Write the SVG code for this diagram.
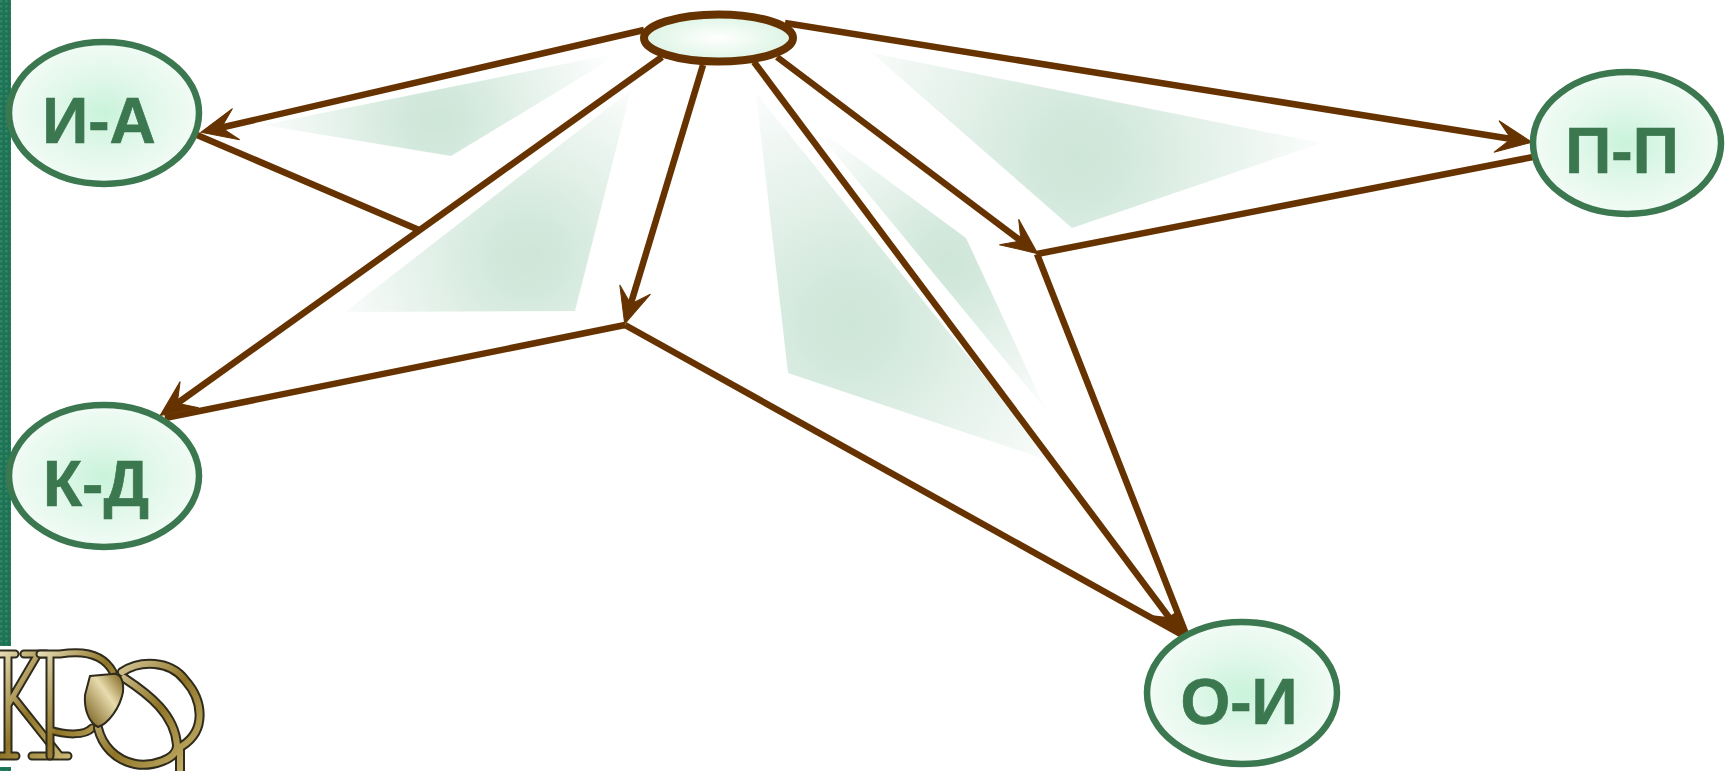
<svg xmlns="http://www.w3.org/2000/svg" width="1730" height="771" viewBox="0 0 1730 771">
<style>
.n{stroke:#3b774f;stroke-width:6.5;fill:url(#nf)}
.t{font-family:"Liberation Sans",Arial,sans-serif;font-weight:700;font-size:64px;fill:#3b774f;stroke:#3b774f;stroke-width:.7;text-anchor:middle}
.c{stroke:#663300;stroke-width:6.5;fill:none}
.a{marker-end:url(#ah)}
.ld{fill:none;stroke:#2e2a1c;stroke-linecap:round}
.lg{fill:none;stroke:url(#gold);stroke-linecap:round}
</style>
<defs>
<radialGradient id="nf"><stop offset="0" stop-color="#c9f3da"/><stop offset=".6" stop-color="#e4f8ec"/><stop offset="1" stop-color="#f1fbf5"/></radialGradient>
<radialGradient id="tf" cx=".5" cy=".5" r=".5"><stop offset="0" stop-color="#ffffff"/><stop offset="1" stop-color="#dcf4e4"/></radialGradient>
<radialGradient id="s1" gradientUnits="userSpaceOnUse" cx="436" cy="120" r="190"><stop offset="0" stop-color="#cde6d8"/><stop offset=".15" stop-color="#d2e8dc"/><stop offset="1" stop-color="#fff"/></radialGradient>
<radialGradient id="s2" gradientUnits="userSpaceOnUse" cx="528" cy="257" r="215"><stop offset="0" stop-color="#cde6d8"/><stop offset=".15" stop-color="#d2e8dc"/><stop offset="1" stop-color="#fff"/></radialGradient>
<radialGradient id="s3" gradientUnits="userSpaceOnUse" cx="849" cy="323" r="270"><stop offset="0" stop-color="#cde6d8"/><stop offset=".15" stop-color="#d2e8dc"/><stop offset="1" stop-color="#fff"/></radialGradient>
<radialGradient id="s4" gradientUnits="userSpaceOnUse" cx="950" cy="262" r="185"><stop offset="0" stop-color="#cde6d8"/><stop offset=".15" stop-color="#d2e8dc"/><stop offset="1" stop-color="#fff"/></radialGradient>
<radialGradient id="s5" gradientUnits="userSpaceOnUse" cx="1078" cy="157" r="265"><stop offset="0" stop-color="#cde6d8"/><stop offset=".15" stop-color="#d2e8dc"/><stop offset="1" stop-color="#fff"/></radialGradient>
<linearGradient id="gold" x1="0" y1="0" x2="1" y2="1"><stop offset="0" stop-color="#e6dcb4"/><stop offset=".5" stop-color="#8f7426"/><stop offset="1" stop-color="#cbb874"/></linearGradient>
<linearGradient id="blob" x1="0" y1="1" x2="1" y2="0"><stop offset="0" stop-color="#6e5410"/><stop offset=".6" stop-color="#e8dcae"/><stop offset="1" stop-color="#7a5e14"/></linearGradient>
<pattern id="bar" width="5" height="5" patternUnits="userSpaceOnUse"><rect width="5" height="5" fill="#1f7355"/><rect width="2.5" height="2.5" fill="#2f8566"/></pattern>
<marker id="ah" markerUnits="userSpaceOnUse" markerWidth="44" markerHeight="40" viewBox="0 0 44 40" refX="20" refY="20" orient="auto"><path d="M39,20 L3,4 L18,20 L3,36 Z" fill="#663300" stroke="#663300" stroke-width="1"/></marker>
</defs>

<g id="background">
<rect x="0" y="0" width="11" height="646" fill="url(#bar)"/>
<rect x="0" y="767" width="11" height="4" fill="url(#bar)"/>
<path d="M263,125 L623,52 L451,156 Z" fill="url(#s1)"/>
<path d="M631,90 L575,311 L345,312 Z" fill="url(#s2)"/>
<path d="M756,93 L1053,462 L788,373 Z" fill="url(#s3)"/>
<path d="M810,123 L966,238 L1046,410 Z" fill="url(#s4)"/>
<path d="M872,53 L1321,143 L1072,228 Z" fill="url(#s5)"/>
</g>

<g id="logo">
<g id="logo-k">
<path class="ld" stroke-width="9" d="M0,654H15M8,654V756M0,756H16M24,654H46M38,654L8,705M14,698L60,756M32,756H68"/>
<path class="lg" stroke-width="5" d="M0,654H15M8,654V756M0,756H16M24,654H46M38,654L8,705M14,698L60,756M32,756H68"/>
</g>
<g id="logo-p">
<path class="ld" stroke-width="9" d="M50,654V756M40,654H60C85,650 104,655 113,672M50,730C65,735 85,736 92,728"/>
<path class="lg" stroke-width="5" d="M50,654V756M40,654H60C85,650 104,655 113,672M50,730C65,735 85,736 92,728"/>
</g>
<g id="logo-o">
<path class="ld" stroke-width="10" d="M122,672C140,660 170,660 185,680C203,700 207,730 182,746M124,678C150,695 175,715 177,745C178,760 150,767 135,764C115,760 102,745 98,728M180,750V771"/>
<path class="lg" stroke-width="6" d="M122,672C140,660 170,660 185,680C203,700 207,730 182,746M124,678C150,695 175,715 177,745C178,760 150,767 135,764C115,760 102,745 98,728M180,750V771"/>
<path d="M90,676L112,674C120,672 124,680 123,692C120,708 108,724 98,727C88,722 84,708 85,695Z" fill="url(#blob)" stroke="#2e2a1c" stroke-width="2"/>
</g>
</g>

<g id="connectors">
<line class="c a" x1="644" y1="30" x2="219.5" y2="128"/>
<line class="c" x1="197" y1="135" x2="419" y2="230"/>
<line class="c a" x1="662" y1="57" x2="175.6" y2="404.5"/>
<line class="c" x1="165" y1="418" x2="625" y2="325"/>
<line class="c a" x1="703" y1="65" x2="630.2" y2="305.8"/>
<line class="c" x1="625" y1="325" x2="1184" y2="636"/>
<line class="c" x1="754" y1="62" x2="1180" y2="632"/>
<line class="c a" x1="777" y1="57" x2="1022.6" y2="242.2"/>
<line class="c" x1="1037" y1="254" x2="1186" y2="634"/>
<line class="c" x1="1037" y1="254" x2="1533" y2="157"/>
<line class="c a" x1="785" y1="23" x2="1513.2" y2="139.2"/>
<path d="M1150,615L1168,617L1176,612L1188,636L1180,637Z" fill="#663300"/>
</g>

<g id="node-top"><ellipse cx="718.5" cy="38" rx="74.5" ry="23.5" fill="url(#tf)" stroke="#663300" stroke-width="8"/></g>
<g id="node-ia"><ellipse class="n" cx="104" cy="113" rx="95" ry="71"/><text class="t" x="99" y="143">И-А</text></g>
<g id="node-kd"><ellipse class="n" cx="104" cy="476" rx="95" ry="71"/><text class="t" x="96" y="506">К-Д</text></g>
<g id="node-pp"><ellipse class="n" cx="1627" cy="143" rx="94" ry="71"/><text class="t" x="1622" y="173">П-П</text></g>
<g id="node-oi"><ellipse class="n" cx="1242" cy="693" rx="95" ry="71"/><text class="t" x="1239" y="724">О-И</text></g>
</svg>
